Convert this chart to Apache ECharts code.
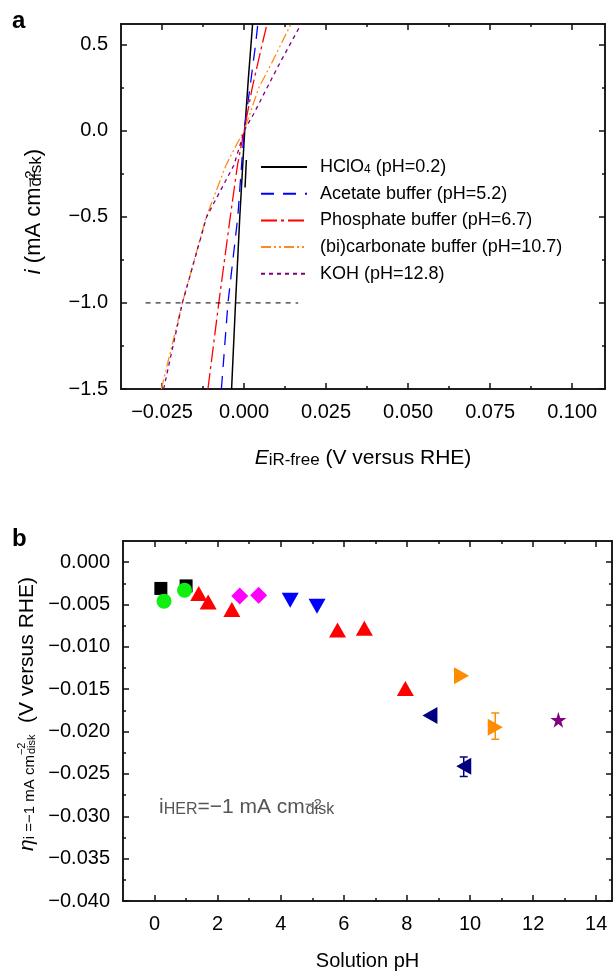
<!DOCTYPE html>
<html>
<head>
<meta charset="utf-8">
<script src="https://cdn.jsdelivr.net/npm/echarts@6/dist/echarts.min.js"></script>
<style>
html, body { margin: 0; padding: 0; background: #fff; }
#chart { width: 614px; height: 972px; }
</style>
</head>
<body>
<div id="chart"></div>
<script>
// panel a: polarisation curves, [E iR-free (V vs RHE), i (mA cm-2)]
var hclo4 = [[-0.0038, -1.5], [-0.0026, -1.0], [-0.0013, -0.5], [0.0002, 0], [0.0013, 0.3], [0.0026, 0.62]];
var hclo4Hook = [[0.0007, -0.17], [0.0003, -0.33]];
var acetate = [[-0.0069, -1.5], [-0.0049, -1.0], [-0.0019, -0.5], [0, 0], [0.0018, 0.25], [0.0035, 0.5], [0.0042, 0.62]];
var phosphate = [[-0.011, -1.5], [-0.0077, -1.0], [-0.0042, -0.5], [-0.002, -0.2], [0, 0], [0.0025, 0.25], [0.0055, 0.5], [0.007, 0.62]];
var carbonate = [[-0.0252, -1.5], [-0.0188, -1.0], [-0.0115, -0.5], [-0.0055, -0.2], [-0.002, -0.07], [0, 0], [0.0045, 0.25], [0.0086, 0.4], [0.0143, 0.62]];
var koh = [[-0.0245, -1.5], [-0.0188, -1.0], [-0.0114, -0.5], [-0.0031, -0.2], [-0.001, -0.07], [0, 0], [0.003, 0.1], [0.007, 0.25], [0.0111, 0.4], [0.0174, 0.62]];
var refLine = [[-0.030, -1.0], [0.0165, -1.0]];

var aXTicks = [-0.025, 0, 0.025, 0.05, 0.075, 0.1];
var aXMinor = [-0.0125, 0.0125, 0.0375, 0.0625, 0.0875];
var aYTicks = [-1.5, -1.0, -0.5, 0, 0.5];
var aYMinor = [-1.25, -0.75, -0.25, 0.25];

// panel b: overpotential at -1 mA cm-2 vs solution pH
var squarePts = [[0.2, -0.0031], [1.0, -0.0028]];
var circlePts = [[0.3, -0.0046], [0.95, -0.0033]];
var upTriPts = [[1.4, -0.0037], [1.7, -0.0047], [2.45, -0.0056], [5.8, -0.0080], [6.65, -0.0078], [7.95, -0.0149]];
var diamondPts = [[2.7, -0.0040], [3.3, -0.0039]];
var downTriPts = [[4.3, -0.0045], [5.15, -0.0052]];
var leftTriPts = [[8.73, -0.0181], [9.8, -0.0241]];
var rightTriPts = [[9.73, -0.0134], [10.8, -0.0195]];
var starPts = [[12.8, -0.0186]];
var orangeErr = [[10.8, -0.0209, -0.0178]];
var navyErr = [[9.8, -0.0253, -0.0230]];

var bXTicks = [0, 2, 4, 6, 8, 10, 12, 14];
var bXMinor = [1, 3, 5, 7, 9, 11, 13];
var bYTicks = [-0.040, -0.035, -0.030, -0.025, -0.020, -0.015, -0.010, -0.005, 0];
var bYMinor = [-0.0375, -0.0325, -0.0275, -0.0225, -0.0175, -0.0125, -0.0075, -0.0025];

var FONT = 'Liberation Sans, Arial, sans-serif';

function fmt(d) {
    return function (v) {
        return (v < -1e-9 ? '\u2212' : '') + Math.abs(v).toFixed(d);
    };
}

function makeAxis(grid, pos, min, max, ticks, len, labelFmt, extra) {
    var ax = {
        type: 'value', gridIndex: grid, position: pos, min: min, max: max,
        axisLine: { show: true, onZero: false, lineStyle: { color: '#111', width: 1.5 } },
        axisTick: { show: true, inside: true, length: len, customValues: ticks, lineStyle: { color: '#111', width: 1.5 } },
        axisLabel: { show: !!labelFmt, customValues: ticks, formatter: labelFmt, fontSize: 20, color: '#000', margin: 13, fontFamily: FONT },
        splitLine: { show: false }
    };
    for (var k in extra) ax[k] = extra[k];
    return ax;
}

// rich styles for sub/superscripts in axis titles; every token left-aligned so
// a 1px-wide superscript sits stacked over the following subscript
function richSet(main, sub, sup, color) {
    return {
        n: { fontSize: main, fontFamily: FONT, color: color, align: 'left' },
        it: { fontSize: main, fontFamily: FONT, fontStyle: 'italic', color: color, align: 'left' },
        sb: { fontSize: sub, fontFamily: FONT, color: color, verticalAlign: 'bottom', lineHeight: 6, align: 'left' },
        sp: { fontSize: sup, fontFamily: FONT, color: color, verticalAlign: 'top', lineHeight: 4, width: 1, align: 'left' },
        ssb: { fontSize: sub - 1, fontFamily: FONT, color: color, verticalAlign: 'bottom', lineHeight: 6, align: 'left' },
        ssp: { fontSize: sup - 3, fontFamily: FONT, color: color, verticalAlign: 'top', lineHeight: 13, width: 1, align: 'left' },
        sssb: { fontSize: sup - 3, fontFamily: FONT, color: color, verticalAlign: 'bottom', lineHeight: 1, align: 'left' }
    };
}

var xAxes = [
    makeAxis(0, 'bottom', -0.0375, 0.11, aXTicks, 6, fmt(3), {
        name: '{it|E}{sb|iR-free}{n| (V versus RHE)}', nameLocation: 'middle', nameGap: 59,
        nameTextStyle: { fontSize: 21, fontFamily: FONT, color: '#000', rich: richSet(21, 17, 14, '#000') }
    }),
    makeAxis(0, 'bottom', -0.0375, 0.11, aXMinor, 3, null, {}),
    makeAxis(0, 'top', -0.0375, 0.11, aXTicks, 6, null, {}),
    makeAxis(0, 'top', -0.0375, 0.11, aXMinor, 3, null, {}),
    makeAxis(1, 'bottom', -1, 14.5, bXTicks, 6, fmt(0), {
        name: 'Solution pH', nameLocation: 'middle', nameGap: 50,
        nameTextStyle: { fontSize: 20, fontFamily: FONT, color: '#000' }
    }),
    makeAxis(1, 'bottom', -1, 14.5, bXMinor, 3, null, {}),
    makeAxis(1, 'top', -1, 14.5, bXTicks, 6, null, {}),
    makeAxis(1, 'top', -1, 14.5, bXMinor, 3, null, {})
];

var yAxes = [
    makeAxis(0, 'left', -1.5, 0.62, aYTicks, 6, fmt(1), {
        name: '{it|i}{n| (mA cm}{sp|\u22122}{sb|disk}{n|)}', nameLocation: 'middle', nameGap: 76,
        nameTextStyle: { fontSize: 22, fontFamily: FONT, color: '#000', padding: [0, 10, 0, 0], rich: richSet(22, 17, 15, '#000') }
    }),
    makeAxis(0, 'left', -1.5, 0.62, aYMinor, 3, null, {}),
    makeAxis(0, 'right', -1.5, 0.62, aYTicks, 6, null, {}),
    makeAxis(0, 'right', -1.5, 0.62, aYMinor, 3, null, {}),
    makeAxis(1, 'left', -0.040, 0.0025, bYTicks, 6, fmt(3), {
        name: '{it|\u03b7}{ssb|i =\u22121 mA cm}{ssp|\u22122}{sssb|disk}{n|  (V versus RHE)}', nameLocation: 'middle', nameGap: 80,
        nameTextStyle: { fontSize: 21, fontFamily: FONT, color: '#000', padding: [0, 0, 0, 14], rich: richSet(21, 16, 14, '#000') }
    }),
    makeAxis(1, 'left', -0.040, 0.0025, bYMinor, 3, null, {}),
    makeAxis(1, 'right', -0.040, 0.0025, bYTicks, 6, null, {}),
    makeAxis(1, 'right', -0.040, 0.0025, bYMinor, 3, null, {})
];

function curve(name, data, color, dash, width) {
    return {
        name: name, type: 'line', xAxisIndex: 0, yAxisIndex: 0, data: data,
        symbol: 'none', smooth: false, clip: true,
        lineStyle: { color: color, width: width || 1.3, type: dash },
        itemStyle: { color: color }
    };
}

function marks(data, symbol, size, rotate, color) {
    return {
        type: 'scatter', xAxisIndex: 4, yAxisIndex: 4, data: data,
        symbol: symbol, symbolSize: size, symbolRotate: rotate,
        itemStyle: { color: color, opacity: 1 }, z: 3
    };
}

function errorBars(data, color) {
    return {
        type: 'custom', xAxisIndex: 4, yAxisIndex: 4, data: data, z: 2,
        encode: { x: 0, y: [1, 2] },
        renderItem: function (params, api) {
            var lo = api.coord([api.value(0), api.value(1)]);
            var hi = api.coord([api.value(0), api.value(2)]);
            var w = 4;
            var st = { stroke: color, lineWidth: 1.5 };
            return {
                type: 'group', children: [
                    { type: 'line', shape: { x1: lo[0], y1: lo[1], x2: hi[0], y2: hi[1] }, style: st },
                    { type: 'line', shape: { x1: lo[0] - w, y1: lo[1], x2: lo[0] + w, y2: lo[1] }, style: st },
                    { type: 'line', shape: { x1: hi[0] - w, y1: hi[1], x2: hi[0] + w, y2: hi[1] }, style: st }
                ]
            };
        }
    };
}

var legendText = {
    'HClO4': '{n|HClO}{s|4}{n| (pH=0.2)}',
    'Acetate buffer': '{n|Acetate buffer (pH=5.2)}',
    'Phosphate buffer': '{n|Phosphate buffer (pH=6.7)}',
    '(bi)carbonate buffer': '{n|(bi)carbonate buffer (pH=10.7)}',
    'KOH': '{n|KOH (pH=12.8)}'
};

var starPath = 'path://M50,0 L61,35 L98,35 L68,57 L79,91 L50,70 L21,91 L32,57 L2,35 L39,35 Z';

var noteRich = richSet(21, 16, 15, '#555');

var chart = echarts.init(document.getElementById('chart'), null, { renderer: 'canvas' });
chart.setOption({
    animation: false,
    backgroundColor: '#fff',
    textStyle: { fontFamily: FONT },
    grid: [
        { left: 121, top: 24, width: 484, height: 365 },
        { left: 123, top: 541, width: 489, height: 362 }
    ],
    xAxis: xAxes,
    yAxis: yAxes,
    legend: {
        data: ['HClO4', 'Acetate buffer', 'Phosphate buffer', '(bi)carbonate buffer', 'KOH'],
        orient: 'vertical', left: 260, top: 158, padding: 0,
        itemWidth: 46, itemHeight: 12, itemGap: 8.7,
        selectedMode: false,
        itemStyle: { color: 'rgba(0,0,0,0)', borderColor: 'rgba(0,0,0,0)', borderWidth: 0, opacity: 0 },
        formatter: function (name) { return legendText[name]; },
        textStyle: {
            fontSize: 18, color: '#000', padding: [0, 0, 0, 8],
            rich: {
                n: { fontSize: 18, fontFamily: FONT, color: '#000' },
                s: { fontSize: 12, fontFamily: FONT, color: '#000', verticalAlign: 'bottom', lineHeight: 6 }
            }
        }
    },
    graphic: [
        { type: 'text', left: 12, top: 9, style: { text: 'a', fontSize: 24, fontWeight: 'bold', fontFamily: FONT, fill: '#000' } },
        { type: 'text', left: 12, top: 527, style: { text: 'b', fontSize: 24, fontWeight: 'bold', fontFamily: FONT, fill: '#000' } },
        {
            type: 'text', left: 159, top: 797,
            style: {
                text: '{n|i}{sb|HER}{n|=\u22121 mA cm}{sp|\u22122}{sb|disk}', fill: '#555',
                rich: noteRich
            }
        }
    ],
    series: [
        curve('HClO4', hclo4, '#000', 'solid', 1.5),
        curve('HClO4', hclo4Hook, '#000', 'solid', 1.5),
        curve('Acetate buffer', acetate, '#0000ff', [13, 9]),
        curve('Phosphate buffer', phosphate, '#ff0000', [16, 4, 3, 4]),
        curve('(bi)carbonate buffer', carbonate, '#ff8c1a', [10, 3, 2, 3, 2, 3]),
        curve('KOH', koh, '#800080', [4, 4]),
        {
            type: 'line', xAxisIndex: 0, yAxisIndex: 0, data: refLine, symbol: 'none',
            lineStyle: { color: '#000', width: 1, type: [5, 5] }
        },
        errorBars(orangeErr, '#ff8c00'),
        errorBars(navyErr, '#000080'),
        marks(squarePts, 'rect', 13, 0, '#000'),
        marks(circlePts, 'circle', 15, 0, '#11ee11'),
        marks(upTriPts, 'triangle', [17, 15], 0, '#ff0000'),
        marks(diamondPts, 'diamond', 17, 0, '#ff00ff'),
        marks(downTriPts, 'triangle', [17, 15], 180, '#0000ff'),
        marks(leftTriPts, 'triangle', [17, 15], 90, '#000080'),
        marks(rightTriPts, 'triangle', [17, 15], -90, '#ff8c00'),
        marks(starPts, starPath, 16, 0, '#800080')
    ]
});
</script>
</body>
</html>
